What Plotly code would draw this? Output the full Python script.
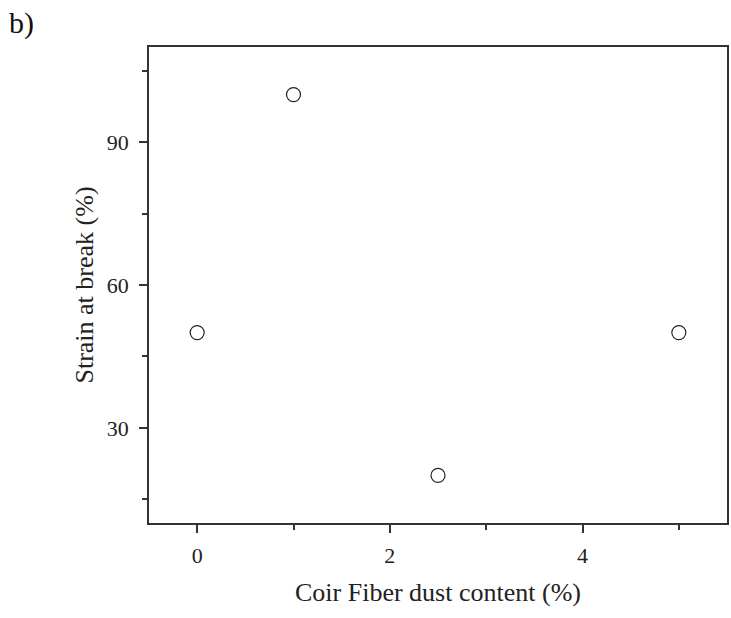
import plotly.graph_objects as go

coir_content = [0, 1, 2.5, 5]
strain_at_break = [50, 100, 20, 50]

axis_color = "#333333"
font_family = "Liberation Serif, Times New Roman, serif"

fig = go.Figure()
fig.add_trace(go.Scatter(
    x=coir_content, y=strain_at_break, mode="markers",
    marker=dict(symbol="circle-open", size=14, color="#222222", line=dict(width=1.2)),
    showlegend=False,
))

common = dict(
    showgrid=False, zeroline=False, showline=True, linecolor=axis_color, linewidth=1.8,
    mirror=True, ticks="outside", ticklen=8, tickwidth=1.8, tickcolor=axis_color,
    tickfont=dict(family=font_family, size=22, color="#222222"),
)

fig.update_xaxes(
    range=[-0.5, 5.5], tick0=0, dtick=2, **common,
    minor=dict(dtick=1, tick0=0, ticks="outside", ticklen=5, tickwidth=1.8, tickcolor=axis_color),
    title=dict(text="Coir Fiber dust content (%)", font=dict(family=font_family, size=26, color="#222222"), standoff=16),
    ticklabelstandoff=4,
)
fig.update_yaxes(
    range=[10, 110], tick0=0, dtick=30, **common,
    minor=dict(dtick=15, tick0=0, ticks="outside", ticklen=5, tickwidth=1.8, tickcolor=axis_color),
    title=dict(text="Strain at break (%)", font=dict(family=font_family, size=26, color="#222222"), standoff=6),
    ticklabelstandoff=6,
)

fig.add_annotation(
    text="b)", xref="paper", yref="paper", x=-149/580, y=1 + 47/476, xanchor="left", yanchor="top",
    xshift=6, yshift=-4, showarrow=False, font=dict(family=font_family, size=30, color="#111111"),
)

fig.update_layout(
    width=731, height=618, margin=dict(l=149, r=2, t=47, b=95),
    paper_bgcolor="white", plot_bgcolor="white",
)

fig.write_html("out.html")
